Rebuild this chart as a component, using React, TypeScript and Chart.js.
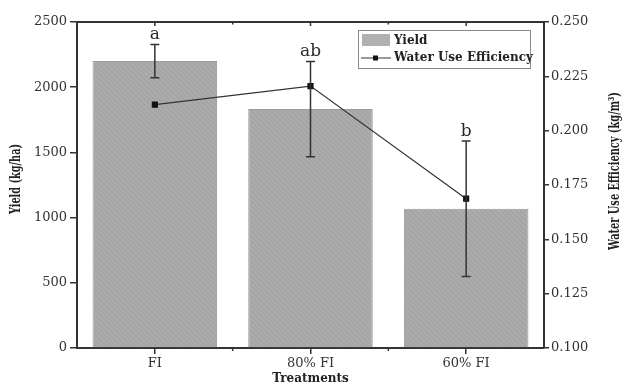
import React, { useEffect, useRef } from "react";
import { Chart, registerables } from "chart.js";

Chart.register(...registerables);

const categories = ["FI", "80% FI", "60% FI"];
const yieldValues = [2200, 1832, 1068];
const yieldErrors = [128, 365, 520];
const wueValues = [0.212, 0.2205, 0.1687];
const letters = ["a", "ab", "b"];
const yieldTicks = { min: 0, max: 2500, step: 500 };
const wueTicks = { min: 0.1, max: 0.25, step: 0.025 };
const yieldTitle = "Yield (kg/ha)";
const wueTitle = "Water Use Efficiency (kg/m³)";

const AXIS = "#333333";
const FONT = "'DejaVu Serif', 'Liberation Serif', serif";

function makePattern(): CanvasPattern | string {
  const c = document.createElement("canvas");
  c.width = 5;
  c.height = 5;
  const ctx = c.getContext("2d");
  if (!ctx) return "#a8a8a8";
  ctx.fillStyle = "#ababab";
  ctx.fillRect(0, 0, 5, 5);
  ctx.strokeStyle = "#9e9e9e";
  ctx.lineWidth = 1;
  ctx.beginPath();
  ctx.moveTo(0, 0);
  ctx.lineTo(5, 5);
  ctx.stroke();
  const p = ctx.createPattern(c, "repeat");
  return p || "#a8a8a8";
}

function drawFitted(ctx: CanvasRenderingContext2D, text: string, cx: number, cy: number, width: number, font: string) {
  ctx.save();
  ctx.translate(cx, cy);
  ctx.rotate(-Math.PI / 2);
  ctx.font = font;
  const w = ctx.measureText(text).width;
  ctx.scale(width / w, 1);
  ctx.textAlign = "center";
  ctx.textBaseline = "middle";
  ctx.fillText(text, 0, 0);
  ctx.restore();
}

const extrasPlugin = {
  id: "extras",
  afterDatasetsDraw(chart: any) {
    const ctx = chart.ctx;
    const x = chart.scales.x;
    const y = chart.scales.y;
    const area = chart.chartArea;
    ctx.save();
    // error bars + letters
    ctx.strokeStyle = AXIS;
    ctx.lineWidth = 1.5;
    yieldValues.forEach((v, i) => {
      const px = x.getPixelForValue(i);
      const top = y.getPixelForValue(v + yieldErrors[i]);
      const bot = y.getPixelForValue(v - yieldErrors[i]);
      ctx.beginPath();
      ctx.moveTo(px, top);
      ctx.lineTo(px, bot);
      ctx.moveTo(px - 4.5, top);
      ctx.lineTo(px + 4.5, top);
      ctx.moveTo(px - 4.5, bot);
      ctx.lineTo(px + 4.5, bot);
      ctx.stroke();
      ctx.fillStyle = "#2a2a2a";
      ctx.font = "17px " + FONT;
      ctx.textAlign = "center";
      ctx.textBaseline = "bottom";
      ctx.fillText(letters[i], px, top - 1);
    });
    // top frame line
    ctx.lineWidth = 2;
    ctx.beginPath();
    ctx.moveTo(area.left - 1, area.top);
    ctx.lineTo(area.right + 1, area.top);
    ctx.stroke();
    // minor ticks and top ticks
    ctx.lineWidth = 1.5;
    for (let i = 0; i < categories.length; i++) {
      const px = x.getPixelForValue(i);
      ctx.beginPath();
      ctx.moveTo(px, area.top);
      ctx.lineTo(px, area.top + 4);
      ctx.stroke();
      if (i < categories.length - 1) {
        const mx = (px + x.getPixelForValue(i + 1)) / 2;
        ctx.beginPath();
        ctx.moveTo(mx, area.bottom);
        ctx.lineTo(mx, area.bottom + 3);
        ctx.moveTo(mx, area.top);
        ctx.lineTo(mx, area.top + 2.5);
        ctx.stroke();
      }
    }
    // axis titles (both read bottom to top)
    ctx.fillStyle = "#222";
    drawFitted(ctx, yieldTitle, 16, 179, 70, "bold 14px " + FONT);
    drawFitted(ctx, wueTitle, 615, 171, 158, "bold 14px " + FONT);
    // legend
    const lx = 358, ly = 30, lw = 172, lh = 38;
    ctx.fillStyle = "#ffffff";
    ctx.fillRect(lx, ly, lw, lh);
    ctx.strokeStyle = "#8a8a8a";
    ctx.lineWidth = 1;
    ctx.strokeRect(lx + 0.5, ly + 0.5, lw, lh);
    ctx.fillStyle = "#b0b0b0";
    ctx.fillRect(lx + 4, ly + 4, 28, 12);
    ctx.strokeStyle = "#333";
    ctx.beginPath();
    ctx.moveTo(lx + 3, ly + 28);
    ctx.lineTo(lx + 33, ly + 28);
    ctx.stroke();
    ctx.fillStyle = "#111";
    ctx.fillRect(lx + 15, ly + 25.5, 5, 5);
    ctx.fillStyle = "#222";
    ctx.font = "bold 12px " + FONT;
    ctx.textAlign = "left";
    ctx.textBaseline = "middle";
    ctx.fillText("Yield", lx + 36, ly + 11);
    ctx.fillText("Water Use Efficiency", lx + 36, ly + 28);
    ctx.restore();
  },
};

export default function App() {
  const ref = useRef<HTMLCanvasElement | null>(null);
  useEffect(() => {
    if (!ref.current) return;
    const pattern = makePattern();
    const chart = new Chart(ref.current, {
      type: "bar",
      data: {
        labels: categories,
        datasets: [
          {
            type: "line",
            label: "Water Use Efficiency",
            data: wueValues,
            yAxisID: "y1",
            borderColor: "#333",
            borderWidth: 1.2,
            pointStyle: "rect",
            pointRadius: 3.5,
            pointBackgroundColor: "#111",
            pointBorderColor: "#111",
            order: 1,
          } as any,
          {
            type: "bar",
            label: "Yield",
            data: yieldValues,
            yAxisID: "y",
            backgroundColor: pattern as any,
            borderColor: "#9a9a9a",
            borderWidth: 1,
            barPercentage: 0.8,
            categoryPercentage: 1,
            order: 2,
          },
        ],
      },
      options: {
        responsive: false,
        animation: false,
        layout: { padding: { top: 22, right: 0, left: 0, bottom: 0 } },
        plugins: { legend: { display: false }, tooltip: { enabled: false } },
        scales: {
          x: {
            offset: true,
            grid: { offset: false, drawOnChartArea: false, drawTicks: true, tickLength: 6, color: AXIS, lineWidth: 1.5 },
            border: { display: true, color: AXIS, width: 2 },
            ticks: { color: "#333", padding: 2, font: { family: FONT, size: 13 } },
            title: { display: true, text: "Treatments", color: "#222", padding: { top: 0, bottom: 2 }, font: { family: FONT, size: 12, weight: "bold" } },
            afterFit: (s: any) => { s.height = 40; },
          },
          y: {
            position: "left",
            min: yieldTicks.min,
            max: yieldTicks.max,
            ticks: { stepSize: yieldTicks.step, color: "#333", padding: 3, font: { family: FONT, size: 13 }, callback: (v: any) => String(v) },
            grid: { drawOnChartArea: false, tickLength: 7, color: AXIS, lineWidth: 1.5 },
            border: { display: true, color: AXIS, width: 2 },
            afterFit: (s: any) => { s.width = 77; },
          },
          y1: {
            position: "right",
            min: wueTicks.min,
            max: wueTicks.max,
            ticks: { stepSize: wueTicks.step, color: "#333", padding: 2, font: { family: FONT, size: 13 }, callback: (v: any) => Number(v).toFixed(3) },
            grid: { drawOnChartArea: false, tickLength: 5, color: AXIS, lineWidth: 1.5 },
            border: { display: true, color: AXIS, width: 2 },
            afterFit: (s: any) => { s.width = 80; },
          },
        },
      },
      plugins: [extrasPlugin],
    });
    return () => chart.destroy();
  }, []);
  return (
    <div style={{ position: "fixed", left: 0, top: 0, width: 624, height: 388, background: "#fff" }}>
      <canvas ref={ref} width={624} height={388} style={{ width: 624, height: 388 }} />
    </div>
  );
}
